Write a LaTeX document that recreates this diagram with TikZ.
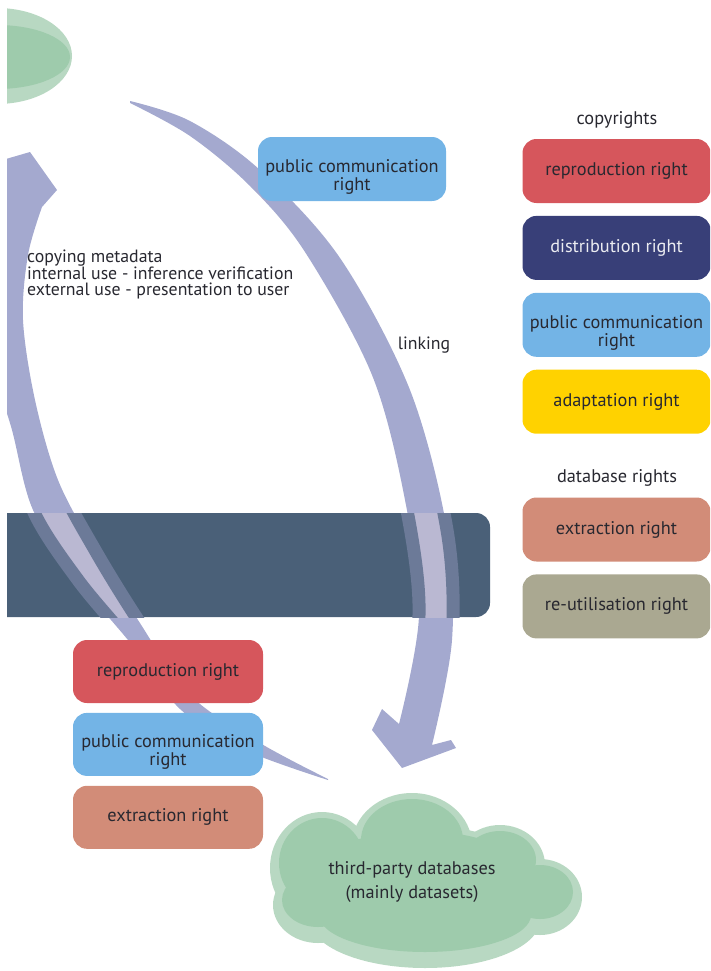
\documentclass[tikz,border=0pt]{standalone}
\usepackage{fontspec}
\setmainfont{PT Sans}
\usetikzlibrary{positioning}
\definecolor{arrowblue}{RGB}{164,169,207}
\definecolor{arrowlight}{RGB}{186,184,210}
\definecolor{arrowedge}{RGB}{108,122,152}
\definecolor{barslate}{RGB}{74,96,120}
\definecolor{dbgreen}{RGB}{184,216,194}
\definecolor{dbgreendark}{RGB}{158,203,172}
\definecolor{reprored}{RGB}{214,86,92}
\definecolor{distnavy}{RGB}{56,63,120}
\definecolor{commblue}{RGB}{115,180,230}
\definecolor{adaptyellow}{RGB}{255,210,0}
\definecolor{extractbrown}{RGB}{210,140,120}
\definecolor{reusegray}{RGB}{170,168,145}
\definecolor{inkdark}{RGB}{40,40,48}

\begin{document}
\begin{tikzpicture}[x=1pt, y=-1pt,
    rightbox/.style={rounded corners=14pt, minimum width=188pt, minimum height=64pt, align=center, text=inkdark, inner sep=2pt, font=\fontsize{18.3}{18}\selectfont},
    heading/.style={text=inkdark, font=\fontsize{18.3}{18}\selectfont},
    note/.style={text=inkdark, align=left, inner sep=0pt, font=\fontsize{17.8}{16.5}\selectfont},
    node distance=12.5pt
]
    \useasboundingbox (0,0) rectangle (710,971);
    \clip (7,0) rectangle (710,971);

    % Database at the top left
    \fill[dbgreen] (-3,56) ellipse [x radius=75, y radius=48];
    \fill[dbgreendark] (-3,57) ellipse [x radius=73, y radius=32];

    % Central bar
    \fill[barslate, rounded corners=14pt] (-20,513) rectangle (490,617);

    % Linking arrow (top to the cloud)
    \path[save path=\linkarrow] plot[smooth, tension=0.55] coordinates {(130,101) (190,121) (260,170) (340,258) (410,390) (447,530) (452,640) (432,745)}
        -- (451,740) -- (456,748) -- (402,768) -- (372,730) -- (382,709) -- (399,724)
        -- plot[smooth, tension=0.55] coordinates {(399,724) (419,615) (405,500) (372,375) (305,252) (250,186) (190,136) (130,103)} -- cycle;
    \fill[arrowblue, use path=\linkarrow];

    % Copying arrow (cloud back to the database)
    \path[save path=\copyarrow] plot[smooth, tension=0.55] coordinates {(328,779) (260,743) (190,695) (138,620) (95,550) (58,480) (35,400) (23,320) (28,255) (42,207)}
        -- (57,190) -- (30,152) -- (-25,168) -- (5,196)
        -- plot[smooth, tension=0.55] coordinates {(5,196) (-10,280) (-8,360) (12,430) (33,510) (78,580) (132,645) (180,709) (245,750) (328,780)} -- cycle;
    \fill[arrowblue, use path=\copyarrow];

    % Arrows seen through the bar
    \begin{scope}
        \clip (7,513) rectangle (490,617);
        \fill[arrowlight, use path=\linkarrow];
        \draw[arrowedge, line width=13pt, use path=\linkarrow];
        \fill[arrowlight, use path=\copyarrow];
        \draw[arrowedge, line width=13pt, use path=\copyarrow];
    \end{scope}

    % Labels on the arrows
    \node[note, anchor=north west] (copynote) at (27,250) {copying metadata\\internal use - inference verification\\external use - presentation to user};
    \node[note] (linknote) at (424,345) {linking};

    % Right on the linking arrow
    \node[rightbox, fill=commblue] (commlink) at (352,169) {\rule{0pt}{29pt}public communication\\right};

    % Copyrights column
    \node[heading] (copyhead) at (617,120) {copyrights};
    \node[rightbox, fill=reprored] (reprocopy) at (616.5,171) {reproduction right};
    \node[rightbox, fill=distnavy, text=white!90!distnavy] (distcopy) [below=of reprocopy] {distribution right};
    \node[rightbox, fill=commblue] (commcopy) [below=of distcopy] {\rule{0pt}{29pt}public communication\\right};
    \node[rightbox, fill=adaptyellow] (adaptcopy) [below=of commcopy] {adaptation right};

    % Database rights column
    \node[heading] (dbhead) at (617,478) {database rights};
    \node[rightbox, fill=extractbrown] (extractdb) at (616.5,529.5) {extraction right};
    \node[rightbox, fill=reusegray] (reusedb) [below=of extractdb] {re-utilisation right};

    % Rights on the copying arrow
    \node[rightbox, fill=reprored, minimum width=190pt, minimum height=63pt] (reprobottom) at (168,671.5) {reproduction right};
    \node[rightbox, fill=commblue, minimum width=190pt, minimum height=63pt, below=9.5pt of reprobottom] (commbottom) {\rule{0pt}{29pt}public communication\\right};
    \node[rightbox, fill=extractbrown, minimum width=190pt, minimum height=63pt, below=9.5pt of commbottom] (extractbottom) {extraction right};

    % Third-party databases cloud (side, then top face)
    \foreach \cx/\cy/\rx/\ry in {322/868/52/56, 412/845/60/52, 500/865/45/40, 540/897/42/38, 425/920/115/48, 318/905/45/38, 420/885/120/60}
        \fill[dbgreen] (\cx,\cy) ellipse [x radius=\rx, y radius=\ry];
    \foreach \cx/\cy/\rx/\ry in {322/868/52/56, 412/845/60/52, 500/865/45/40, 540/897/42/38, 425/920/115/48, 318/905/45/38, 420/885/120/60}
        \fill[dbgreendark] (\cx,\cy-5) ellipse [x radius=\rx-9, y radius=\ry-11];
    \node[align=center, text=inkdark, font=\fontsize{18.3}{24}\selectfont] (thirdparty) at (412,882) {third-party databases\\(mainly datasets)};
\end{tikzpicture}
\end{document}
